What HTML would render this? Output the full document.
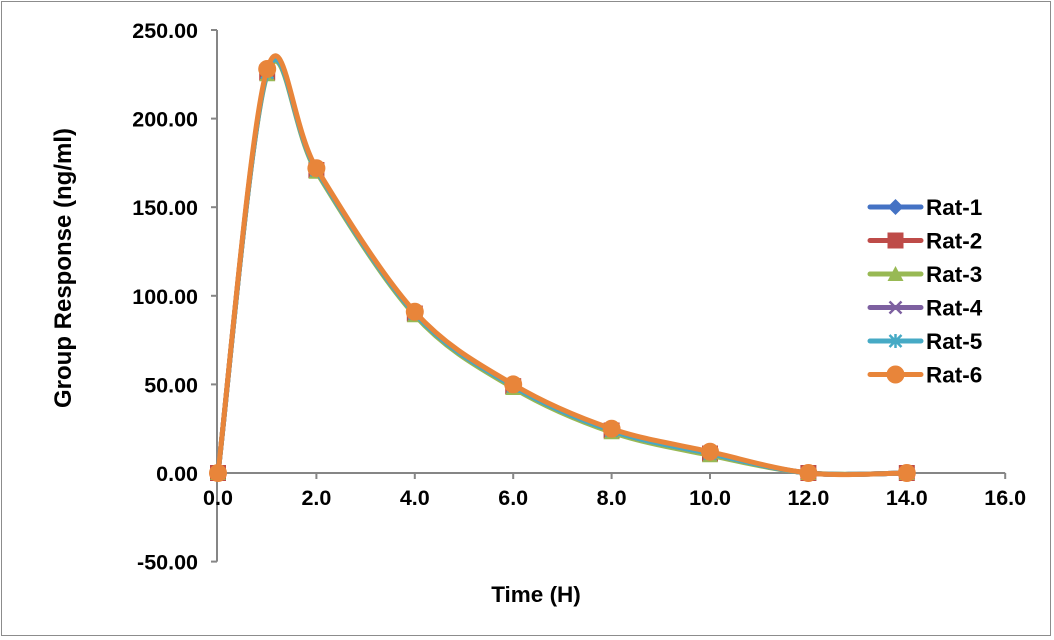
<!DOCTYPE html>
<html><head><meta charset="utf-8"><style>
html,body{margin:0;padding:0;background:#fff;}
svg{display:block;font-family:"Liberation Sans",Arial,sans-serif;}
</style></head><body>
<svg id="chart" width="1054" height="640">
<rect x="1.5" y="1.5" width="1049" height="634" fill="#fff" stroke="#8c8c8c"/>
<g id="axes"></g>
<g id="series"></g>
<g id="legend"></g>
<text x="536" y="602" text-anchor="middle" font-size="22.5" font-weight="bold">Time (H)</text>
<text transform="translate(71,268) rotate(-90)" text-anchor="middle" font-size="24" font-weight="bold">Group Response (ng/ml)</text>
</svg>
<script>
const xTicks=[0,2,4,6,8,10,12,14,16];
const yTicks=[250,200,150,100,50,0,-50];
const times=[0,1,2,4,6,8,10,12,14];
const seriesNames=["Rat-1","Rat-2","Rat-3","Rat-4","Rat-5","Rat-6"];
const rat1=[0,226,171,90,49,24,11,0,0];
const rat2=[0,226,171,90,49,24,11,0,0];
const rat3=[0,225,170,89,48,23,10,0,0];
const rat4=[0,226,171,90,49,24,11,0,0];
const rat5=[0,226,171,90,49,24,11,0,0];
const rat6=[0,228,172,91,50,25,12,0,0];
const colors=["#4472c4","#be4b48","#98b954","#7d60a0","#46aac5","#e8853a"];
const ns="http://www.w3.org/2000/svg";
const X=v=>218+v*49.2;
const Y=v=>473-v*1.772;
function mk(tag,attrs,parent){const e=document.createElementNS(ns,tag);for(const k in attrs)e.setAttribute(k,attrs[k]);parent.appendChild(e);return e;}
const axes=document.getElementById('axes');
let a=mk('line',{x1:217,y1:Y(250),x2:217,y2:Y(-50),stroke:'#868686','stroke-width':2},axes);

a=mk('line',{x1:217,y1:473,x2:X(16),y2:473,stroke:'#868686','stroke-width':2},axes);

yTicks.forEach(v=>{
 mk('line',{x1:211,y1:Y(v),x2:217,y2:Y(v),stroke:'#868686','stroke-width':2},axes);
 const t=mk('text',{x:198,y:Y(v)+8,'text-anchor':'end','font-size':21.5,'font-weight':'bold'},axes);
 t.textContent=v.toFixed(2);
 
 
});
xTicks.forEach(v=>{
 mk('line',{x1:X(v),y1:473,x2:X(v),y2:479,stroke:'#868686','stroke-width':2},axes);
 const t=mk('text',{x:X(v),y:505,'text-anchor':'middle','font-size':21.5,'font-weight':'bold'},axes);
 t.textContent=v.toFixed(1);
 
 
});
function smooth(pts){
 let d=`M${pts[0][0]},${pts[0][1]}`;
 for(let i=0;i<pts.length-1;i++){
  const p0=pts[Math.max(0,i-1)],p1=pts[i],p2=pts[i+1],p3=pts[Math.min(pts.length-1,i+2)];
  const k=1/6;
  const c1=[p1[0]+(p2[0]-p0[0])*k,p1[1]+(p2[1]-p0[1])*k];
  const c2=[p2[0]-(p3[0]-p1[0])*k,p2[1]-(p3[1]-p1[1])*k];
  d+=` C${c1[0]},${c1[1]} ${c2[0]},${c2[1]} ${p2[0]},${p2[1]}`;
 }
 return d;
}
function marker(i,x,y,g){
 const c=colors[i];let m;
 if(i===0)m=mk('path',{d:`M${x},${y-8}L${x+8},${y}L${x},${y+8}L${x-8},${y}Z`,fill:c},g);
 else if(i===1)m=mk('rect',{x:x-8,y:y-8,width:16,height:16,fill:c},g);
 else if(i===2)m=mk('path',{d:`M${x},${y-8}L${x+8},${y+7}L${x-8},${y+7}Z`,fill:c},g);
 else if(i===3)m=mk('path',{d:`M${x-6},${y-6}L${x+6},${y+6}M${x+6},${y-6}L${x-6},${y+6}`,stroke:c,'stroke-width':2.5},g);
 else if(i===4)m=mk('path',{d:`M${x-6},${y-6}L${x+6},${y+6}M${x+6},${y-6}L${x-6},${y+6}M${x},${y-7}L${x},${y+7}`,stroke:c,'stroke-width':2.5},g);
 else m=mk('circle',{cx:x,cy:y,r:9,fill:c},g);
 return m;
}
const all=[rat1,rat2,rat3,rat4,rat5,rat6];
const sg=document.getElementById('series');
all.forEach((vals,i)=>{
 const g=mk('g',{},sg);
 
 
 const pts=times.map((t,j)=>[X(t),Y(vals[j])]);
 const p=mk('path',{d:smooth(pts),fill:'none',stroke:colors[i],'stroke-width':5,'stroke-linecap':'round'},g);
 
 
 pts.forEach(pt=>{
  const m=marker(i,pt[0],pt[1],g);
  
  
 });
});
const lg=document.getElementById('legend');
seriesNames.forEach((n,i)=>{
 const y=207+i*33.5;
 const g=mk('g',{},lg);
 
 
 mk('line',{x1:870,y1:y,x2:921,y2:y,stroke:colors[i],'stroke-width':5,'stroke-linecap':'round'},g);
 marker(i,895.5,y,g);
 const t=mk('text',{x:926,y:y+8,'font-size':22.5,'font-weight':'bold'},g);
 t.textContent=n;
});
</script>
</body></html>
